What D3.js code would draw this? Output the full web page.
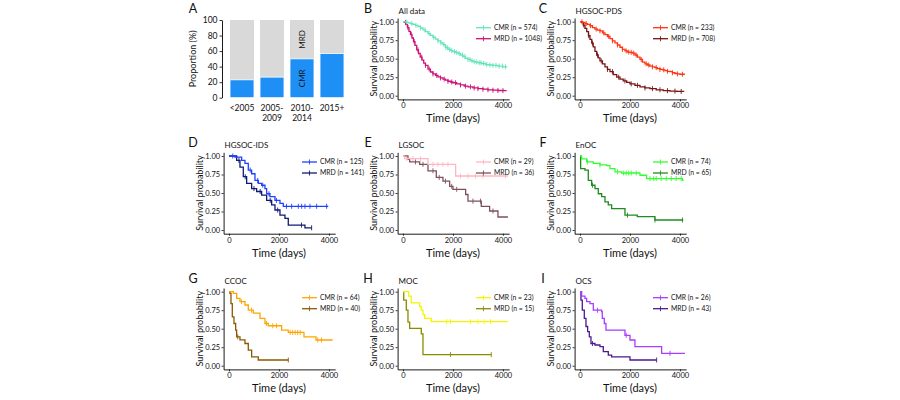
<!DOCTYPE html>
<html>
<head>
<meta charset="utf-8">
<script src="https://cdn.jsdelivr.net/npm/d3@7"></script>
<style>
body { margin: 0; background: #fff; }
text { font-family: Lato, "Open Sans", sans-serif; fill: #111; }
</style>
</head>
<body>
<div id="chart"></div>
<script>
//====== Panel A data ======
const eras = ["<2005", "2005-2009", "2010-2014", "2015+"];
const eraLines = [["<2005"], ["2005-", "2009"], ["2010-", "2014"], ["2015+"]];
const cmrPct = [23, 26.5, 50, 57];
const pctTicks = [0, 20, 40, 60, 80, 100];

//====== Survival data: [days, survival] steps ======
const allCmr = [[0,1],[100,0.995],[200,0.985],[300,0.975],[400,0.965],[500,0.95],[600,0.935],[700,0.915],[800,0.89],[900,0.865],[1000,0.84],[1100,0.815],[1200,0.79],[1300,0.765],[1400,0.74],[1500,0.715],[1600,0.69],[1700,0.65],[1800,0.625],[1900,0.61],[2000,0.595],[2100,0.585],[2200,0.57],[2300,0.55],[2400,0.53],[2500,0.505],[2600,0.49],[2700,0.475],[2800,0.46],[2900,0.455],[3000,0.445],[3150,0.435],[3300,0.42],[3450,0.415],[3600,0.41],[3800,0.4],[4000,0.39],[4150,0.385]];
const allMrd = [[0,1],[60,0.99],[120,0.96],[180,0.92],[240,0.87],[300,0.83],[360,0.78],[420,0.73],[480,0.68],[550,0.62],[620,0.57],[690,0.52],[760,0.48],[830,0.44],[900,0.41],[1000,0.36],[1100,0.32],[1200,0.295],[1300,0.275],[1400,0.255],[1500,0.24],[1600,0.225],[1700,0.21],[1800,0.195],[1900,0.185],[2000,0.175],[2150,0.16],[2300,0.145],[2450,0.13],[2600,0.12],[2800,0.105],[3000,0.095],[3200,0.088],[3400,0.08],[3600,0.074],[3800,0.07],[4000,0.068],[4150,0.068]];
const allCmrCens = [150,350,520,700,880,1050,1230,1400,1520,1640,1720,1790,1870,1950,2060,2150,2250,2380,2480,2600,2680,2760,2850,2950,3050,3120,3230,3350,3480,3600,3720,3850,3980,4100];
const allMrdCens = [100,200,330,450,600,750,900,1050,1200,1350,1500,1650,1800,1950,2100,2300,2500,2700,2850,3000,3200,3400,3600,3800,4000];

const pdsCmr = [[0,1],[100,0.99],[200,0.975],[300,0.965],[400,0.945],[500,0.92],[600,0.9],[700,0.885],[800,0.875],[900,0.85],[1000,0.825],[1100,0.8],[1200,0.77],[1300,0.74],[1400,0.715],[1500,0.685],[1600,0.655],[1700,0.625],[1800,0.605],[1900,0.59],[2000,0.585],[2100,0.575],[2200,0.55],[2300,0.52],[2400,0.49],[2500,0.455],[2600,0.43],[2700,0.415],[2800,0.4],[2900,0.39],[3000,0.38],[3100,0.365],[3200,0.355],[3300,0.35],[3400,0.34],[3500,0.33],[3600,0.325],[3700,0.31],[3800,0.3],[3900,0.295],[4000,0.29],[4200,0.29]];
const pdsMrd = [[0,1],[60,0.99],[130,0.955],[200,0.91],[270,0.865],[340,0.81],[400,0.76],[470,0.71],[530,0.66],[600,0.6],[670,0.55],[730,0.51],[800,0.47],[900,0.43],[1000,0.39],[1100,0.355],[1200,0.325],[1330,0.285],[1470,0.25],[1600,0.225],[1730,0.2],[1870,0.18],[2000,0.16],[2200,0.14],[2400,0.12],[2600,0.105],[2800,0.095],[3050,0.08],[3330,0.068],[3600,0.062],[3870,0.058],[4150,0.054]];
const pdsCmrCens = [80,250,420,650,800,950,1150,1300,1500,1700,1850,1950,2050,2150,2250,2450,2650,2750,2900,3050,3200,3350,3500,3700,3900,4100];
const pdsMrdCens = [150,350,500,700,850,1100,1300,1550,1800,2050,2300,2600,2900,3200,3500,3800,4050];

const idsCmr = [[0,1],[180,1],[240,0.985],[507,0.94],[640,0.9],[773,0.81],[907,0.76],[1040,0.67],[1173,0.63],[1307,0.605],[1440,0.56],[1507,0.49],[1640,0.45],[1840,0.4],[2040,0.36],[2173,0.32],[3973,0.32]];
const idsMrd = [[0,1],[200,1],[307,0.94],[440,0.85],[573,0.72],[707,0.63],[907,0.56],[1107,0.52],[1307,0.47],[1507,0.4],[1707,0.34],[1840,0.27],[2040,0.2],[2240,0.157],[2373,0.067],[3040,0.03],[3307,0.03]];
const idsCmrCens = [150,850,1150,1350,1600,1900,2300,2507,2773,2907,3040,3240,3507,3907];
const idsMrdCens = [400,650,1000,1250,1650,1950,2900,3307];

const lgCmr = [[0,1],[67,0.965],[1000,0.887],[2107,0.73],[4200,0.73]];
const lgMrd = [[0,1],[200,0.955],[267,0.92],[667,0.887],[1000,0.8],[1333,0.71],[1600,0.66],[1867,0.59],[2000,0.55],[2507,0.48],[2600,0.39],[3133,0.32],[3467,0.257],[3800,0.176],[4200,0.176]];
const lgCmrCens = [150,400,700,1200,1400,1600,1800,2300,2600,2900,3200,4100];
const lgMrdCens = [500,800,1200,1450,1700,1950,2150,2800,3100,3600];

const enCmr = [[0,1],[67,0.96],[267,0.92],[533,0.9],[800,0.88],[1067,0.87],[1200,0.83],[1400,0.785],[1667,0.77],[2400,0.74],[2667,0.695],[4100,0.67],[4150,0.67]];
const enMrd = [[0,1],[27,0.83],[200,0.81],[333,0.67],[467,0.605],[600,0.56],[733,0.49],[867,0.45],[1000,0.38],[1133,0.34],[1267,0.29],[1800,0.2],[2293,0.18],[3000,0.135],[4133,0.135]];
const enCmrCens = [300,800,1500,1750,1850,1950,2050,2250,2800,2950,3050,3250,3450,3650,3850,4050];
const enMrdCens = [500,1900,3000,4100];

const ccCmr = [[0,1],[173,0.977],[307,0.91],[440,0.865],[640,0.82],[773,0.75],[973,0.71],[1240,0.64],[1440,0.57],[1573,0.54],[2107,0.48],[2373,0.45],[3000,0.39],[3480,0.347],[4147,0.347]];
const ccMrd = [[0,1],[40,0.977],[80,0.84],[133,0.66],[200,0.57],[267,0.48],[307,0.39],[440,0.35],[640,0.3],[773,0.21],[907,0.12],[1173,0.077],[2373,0.077]];
const ccCmrCens = [500,900,1500,1750,1900,2450,2550,2650,2750,2850,3550,3700];
const ccMrdCens = [350,2373];

const mocCmr = [[0,1],[227,0.94],[333,0.85],[667,0.8],[733,0.75],[800,0.69],[867,0.64],[1133,0.595],[4200,0.595]];
const mocMrd = [[0,1],[30,0.887],[133,0.75],[200,0.59],[267,0.505],[733,0.43],[800,0.15],[3533,0.15]];
const mocCmrCens = [1750,1900,2700,3000,3250,3500];
const mocMrdCens = [1900,3533];

const ocsCmr = [[0,1],[67,0.94],[200,0.91],[267,0.865],[400,0.84],[533,0.75],[867,0.73],[893,0.64],[973,0.57],[1040,0.48],[1800,0.41],[2000,0.347],[2200,0.257],[3267,0.167],[4200,0.167]];
const ocsMrd = [[0,1],[40,0.887],[93,0.75],[173,0.64],[240,0.53],[307,0.46],[373,0.39],[440,0.3],[600,0.28],[800,0.257],[933,0.19],[1133,0.144],[1267,0.12],[2000,0.077],[3067,0.077]];
const ocsCmrCens = [700,1850,3600];
const ocsMrdCens = [500,3067];

const survTicks = [0, 0.25, 0.5, 0.75, 1];
const dayTicks = [0, 2000, 4000];

//====== Panel layout ======
const colLeft = [223.6, 397.6, 574.6];
const rowTop = [18, 152.3, 288];
const plotW = 111.6, plotH = 81.4;
const letterX = [193, 368, 543];

const kmPanels = [
  {letter:"B", title:"All data",  col:1, row:0, cmr:allCmr, mrd:allMrd, cmrC:allCmrCens, mrdC:allMrdCens, n:[574,1048], colors:["#66e3bd","#cc1177"]},
  {letter:"C", title:"HGSOC-PDS", col:2, row:0, cmr:pdsCmr, mrd:pdsMrd, cmrC:pdsCmrCens, mrdC:pdsMrdCens, n:[233,708], colors:["#ff3311","#7a1414"]},
  {letter:"D", title:"HGSOC-IDS", col:0, row:1, cmr:idsCmr, mrd:idsMrd, cmrC:idsCmrCens, mrdC:idsMrdCens, n:[125,141], colors:["#2040ff","#101a70"]},
  {letter:"E", title:"LGSOC",     col:1, row:1, cmr:lgCmr,  mrd:lgMrd,  cmrC:lgCmrCens,  mrdC:lgMrdCens,  n:[29,36],   colors:["#ffb6c1","#7d515b"]},
  {letter:"F", title:"EnOC",      col:2, row:1, cmr:enCmr,  mrd:enMrd,  cmrC:enCmrCens,  mrdC:enMrdCens,  n:[74,65],   colors:["#33ff33","#1e8c1e"]},
  {letter:"G", title:"CCOC",      col:0, row:2, cmr:ccCmr,  mrd:ccMrd,  cmrC:ccCmrCens,  mrdC:ccMrdCens,  n:[64,40],   colors:["#ffa500","#8b5a00"]},
  {letter:"H", title:"MOC",       col:1, row:2, cmr:mocCmr, mrd:mocMrd, cmrC:mocCmrCens, mrdC:mocMrdCens, n:[23,15],   colors:["#f5f500","#8b8b00"]},
  {letter:"I", title:"OCS",       col:2, row:2, cmr:ocsCmr, mrd:ocsMrd, cmrC:ocsCmrCens, mrdC:ocsMrdCens, n:[26,43],   colors:["#a83cff","#4b1a8b"]}
];

var svg = d3.select("#chart")
            .append("svg")
            .attr("width", 900)
            .attr("height", 400);

function styleAxis(g, size) {
  g.select(".domain").attr("stroke", "#000").attr("stroke-width", 0.9);
  g.selectAll(".tick line").attr("stroke", "#000").attr("stroke-width", 0.8);
  g.selectAll(".tick text").style("font-size", size).style("font-family", "Lato, sans-serif").attr("fill", "#222");
}

//====== Panel A: stacked proportion bars ======
(function () {
  var left = 222, top = 20, bottom = 97.7;
  var x = d3.scaleBand().domain(eras).range([227, 347]).paddingInner(0.2).paddingOuter(0.1);
  var y = d3.scaleLinear().domain([0, 100]).range([bottom, top]);
  var g = svg.append("g");

  g.selectAll(".mrd").data(eras).enter().append("rect")
    .attr("x", d => x(d)).attr("width", x.bandwidth())
    .attr("y", y(100)).attr("height", (d, i) => y(cmrPct[i]) - y(100))
    .attr("fill", "#d9d9d9");
  g.selectAll(".cmr").data(eras).enter().append("rect")
    .attr("x", d => x(d)).attr("width", x.bandwidth())
    .attr("y", (d, i) => y(cmrPct[i])).attr("height", (d, i) => y(0) - y(cmrPct[i]))
    .attr("fill", "#1e8ff5").attr("stroke", "#fff").attr("stroke-width", 0.8);

  // in-bar labels on 2010-2014
  var cx = x("2010-2014") + x.bandwidth() / 2;
  [["MRD", (100 + cmrPct[2]) / 2], ["CMR", cmrPct[2] / 2]].forEach(function (p) {
    g.append("text")
      .attr("transform", "translate(" + (cx + 3) + "," + y(p[1]) + ")rotate(-90)")
      .attr("text-anchor", "middle")
      .style("font-size", "8px")
      .text(p[0]);
  });

  var ax = g.append("g")
    .attr("transform", "translate(" + left + ",0)")
    .call(d3.axisLeft(y).tickValues(pctTicks).tickSize(2.5).tickSizeOuter(0).tickPadding(2));
  styleAxis(ax, "8.5px");

  eras.forEach(function (e, i) {
    eraLines[i].forEach(function (line, j) {
      g.append("text")
        .attr("x", x(e) + x.bandwidth() / 2)
        .attr("y", 111 + j * 10)
        .attr("text-anchor", "middle")
        .style("font-size", "8.5px")
        .text(line);
    });
  });

  g.append("text")
    .attr("text-anchor", "middle")
    .style("font-size", "9px")
    .attr("transform", "translate(196," + ((top + bottom) / 2) + ")rotate(-90)")
    .text("Proportion (%)");

  g.append("text").attr("x", letterX[0]).attr("y", 13)
    .attr("text-anchor", "middle").style("font-size", "12.5px").text("A");
})();

//====== Kaplan-Meier panels ======
function survAt(curve, t) {
  var s = curve[0][1];
  curve.forEach(function (d) { if (d[0] <= t) s = d[1]; });
  return s;
}

kmPanels.forEach(function (p) {
  var left = colLeft[p.col], top = rowTop[p.row];
  var x = d3.scaleLinear().domain([-215, 4250]).range([left, left + plotW]);
  var y = d3.scaleLinear().domain([-0.05, 1.05]).range([top + plotH, top]);
  var g = svg.append("g");

  var line = d3.line()
               .x(d => x(d[0]))
               .y(d => y(d[1]))
               .curve(d3.curveStepAfter);

  // MRD drawn first, CMR on top
  [[p.mrd, p.mrdC, p.colors[1]], [p.cmr, p.cmrC, p.colors[0]]].forEach(function (c) {
    g.append("path")
      .attr("d", line(c[0]))
      .attr("fill", "none")
      .attr("stroke", c[2])
      .attr("stroke-width", 1.3);
    g.selectAll(null).data(c[1]).enter().append("line")
      .attr("x1", d => x(d)).attr("x2", d => x(d))
      .attr("y1", d => y(survAt(c[0], d)) - 2.5)
      .attr("y2", d => y(survAt(c[0], d)) + 2.5)
      .attr("stroke", c[2])
      .attr("stroke-width", 0.9);
  });

  var ay = g.append("g")
    .attr("transform", "translate(" + left + ",0)")
    .call(d3.axisLeft(y).tickValues(survTicks).tickFormat(d3.format(".2f"))
            .tickSize(2).tickSizeOuter(0).tickPadding(1.5));
  styleAxis(ay, "7.5px");
  var ax = g.append("g")
    .attr("transform", "translate(0," + (top + plotH) + ")")
    .call(d3.axisBottom(x).tickValues(dayTicks).tickFormat(d3.format("d"))
            .tickSize(2).tickSizeOuter(0).tickPadding(1.5));
  styleAxis(ax, "7.5px");

  // titles
  g.append("text").attr("x", left + 1).attr("y", top - 4)
    .style("font-size", "8px").text(p.title);
  g.append("text").attr("x", letterX[p.col]).attr("y", top - 5)
    .attr("text-anchor", "middle").style("font-size", "12.5px").text(p.letter);
  g.append("text")
    .attr("x", x(2000)).attr("y", top + plotH + 23)
    .attr("text-anchor", "middle").style("font-size", "11px")
    .text("Time (days)");
  g.append("text")
    .attr("text-anchor", "middle")
    .style("font-size", "9px")
    .attr("transform", "translate(" + (left - 21) + "," + (top + plotH / 2) + ")rotate(-90)")
    .text("Survival probability");

  // legend
  ["CMR", "MRD"].forEach(function (lab, i) {
    var ly = y(1) + 6 + i * 11, lx = x(0) + 73;
    g.append("line").attr("x1", lx).attr("x2", lx + 15).attr("y1", ly).attr("y2", ly)
      .attr("stroke", p.colors[i]).attr("stroke-width", 1.3);
    g.append("line").attr("x1", lx + 7.5).attr("x2", lx + 7.5).attr("y1", ly - 2.5).attr("y2", ly + 2.5)
      .attr("stroke", p.colors[i]).attr("stroke-width", 0.9);
    g.append("text").attr("x", lx + 18).attr("y", ly + 2.3)
      .style("font-size", "6.8px")
      .text(lab + " (n = " + p.n[i] + ")");
  });
});
</script>
</body>
</html>
